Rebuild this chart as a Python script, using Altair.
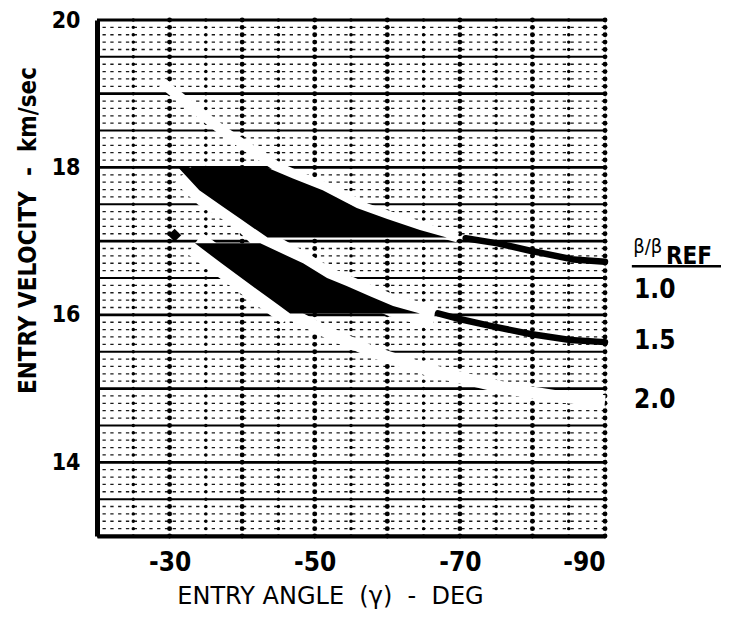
import altair as alt
import pandas as pd

# ---------------- axes ----------------
X_DOMAIN = [-20, -90]
Y_DOMAIN = [13, 20]
X_TICKS = [-30, -50, -70, -90]
Y_TICKS = [14, 16, 18, 20]

# ---------------- grid positions ----------------
MINOR_V = [round(13 + 0.1 * i, 1) for i in range(71)]
MAJOR_INT = [13, 14, 15, 16, 17, 18, 19, 20]
MAJOR_HALF = [13.5, 14.5, 15.5, 16.5, 17.5, 18.5, 19.5]
GRID_ANGLES = [-25, -30, -35, -40, -45, -50, -55, -60, -65, -70, -75, -80, -85, -90]

# ---------------- dark bands (velocity, left edge angle, right edge angle) ----------------
UPPER_VEL = [18.0, 17.85, 17.69, 17.45, 17.3, 17.15, 17.05]
UPPER_LEFT = [-31.2, -32.6, -34.1, -37.6, -39.8, -42.0, -43.5]
UPPER_RIGHT = [-43.4, -47.0, -51.1, -55.8, -60.0, -64.5, -68.2]
LOWER_VEL = [16.97, 16.7, 16.5, 16.39, 16.25, 16.12, 16.02]
LOWER_LEFT = [-33.5, -37.15, -39.9, -41.4, -43.4, -45.2, -46.6]
LOWER_RIGHT = [-42.5, -48.4, -51.7, -54.4, -57.7, -60.8, -64.5]

# ---------------- black curves (right part) ----------------
C10_ANGLE = [-70.8, -75.2, -79.7, -85.7, -90.0]
C10_VEL = [17.04, 16.97, 16.87, 16.75, 16.72]
C15_ANGLE = [-67.0, -70.1, -74.2, -79.7, -85.2, -90.0]
C15_VEL = [16.02, 15.94, 15.85, 15.74, 15.66, 15.63]

# ---------------- white strips (curve traces without grid) ----------------
WA_ANGLE = [-29.0, -30.8, -37.3, -45.0, -48.5, -52.6, -57.0, -61.5, -66.0, -69.7]
WA_VEL = [19.15, 19.0, 18.5, 18.0, 17.85, 17.69, 17.45, 17.3, 17.15, 17.05]
WB_ANGLE = [-31.8, -34.9, -37.2, -40.0, -43.0, -48.4, -51.7, -54.4, -60.8, -64.5, -66.5]
WB_VEL = [17.9, 17.61, 17.48, 17.29, 17.0, 16.70, 16.50, 16.39, 16.12, 16.02, 15.99]
WC1_ANGLE = [-33.5, -37.15, -40.4, -46.6]
WC1_VEL = [16.97, 16.7, 16.46, 16.02]
WC2_ANGLE = [-46.0, -52.0, -57.9, -65.0, -70.0, -76.6, -83.0, -90.0]
WC2_VEL = [16.05, 15.75, 15.5, 15.27, 15.15, 15.0, 14.9, 14.83]

# small dark mark
BLOB_ANGLE = [-30.7]
BLOB_VEL = [17.08]

# ---------------- legend annotation ----------------
LEG_LABELS = ["1.0", "1.5", "2.0"]
LEG_ANGLE = [-94.0, -94.0, -94.0]
LEG_VEL = [16.34, 15.64, 14.84]
HEAD_BETA = "β/β"
HEAD_BETA_POS = (-93.9, 16.92)
HEAD_REF = "REF"
HEAD_REF_POS = (-98.4, 16.79)
HEAD_LINE = (-93.7, -107.0, 16.66)

NB = "\u00a0"
X_TITLE = "ENTRY" + NB + "ANGLE" + NB * 2 + "(γ)" + NB * 2 + "-" + NB * 2 + "DEG"
Y_TITLE = "ENTRY VELOCITY" + NB * 2 + "-" + NB * 2 + "km/sec"

FONT = "DejaVu Sans Condensed, DejaVu Sans"
FONT_WIDE = "DejaVu Sans"

xscale = alt.Scale(domain=X_DOMAIN, nice=False, zero=False)
yscale = alt.Scale(domain=Y_DOMAIN, nice=False, zero=False)

X = alt.X(
    "angle:Q",
    scale=xscale,
    axis=alt.Axis(
        values=X_TICKS,
        labelExpr="datum.value < 0 ? '-' + (-datum.value) : datum.label",
        title=X_TITLE,
        labelFont=FONT, labelFontSize=26, labelFontWeight="bold", labelColor="black",
        labelPadding=13, ticks=False, grid=False,
        domainColor="black", domainWidth=4,
        titleFont=FONT_WIDE, titleFontSize=24, titleFontWeight="normal", titleColor="black",
        titleX=233, titleY=60, titleAlign="center", titleBaseline="middle",
        zindex=1,
    ),
)
Y = alt.Y(
    "vel:Q",
    scale=yscale,
    axis=alt.Axis(
        values=Y_TICKS,
        title=Y_TITLE,
        labelFont=FONT, labelFontSize=23, labelFontWeight="bold", labelColor="black",
        labelPadding=17, ticks=False, grid=False,
        domainColor="black", domainWidth=5,
        titleFont=FONT, titleFontSize=24, titleFontWeight="bold", titleColor="black",
        titleX=-69, titleY=210, titleAngle=270, titleAlign="center", titleBaseline="middle",
        zindex=1,
    ),
)

def frame(angles, vels, **extra):
    d = {"angle": angles, "vel": vels}
    d.update(extra)
    return pd.DataFrame(d)

minor_only = [m for m in MINOR_V if round(m * 2, 6) != round(round(m * 2), 6)]
minor_df = pd.DataFrame({"vel": minor_only})
half_df = pd.DataFrame({"vel": MAJOR_HALF})
int_df = pd.DataFrame({"vel": MAJOR_INT})
dots_df = pd.DataFrame(
    [{"angle": a, "vel": m, "s": (24 if a % 10 == 0 else 12)} for a in GRID_ANGLES for m in MINOR_V]
)

minor = alt.Chart(minor_df).mark_rule(color="#1a1a1a", strokeWidth=1.3, strokeDash=[3.3, 4.5]).encode(y=Y)
half = alt.Chart(half_df).mark_rule(color="black", strokeWidth=2).encode(y=Y)
integ = alt.Chart(int_df).mark_rule(color="black", strokeWidth=2.8).encode(y=Y)
dots = alt.Chart(dots_df).mark_point(filled=True, color="black", opacity=1, shape="circle").encode(
    x=X, y=Y, size=alt.Size("s:Q", scale=None, legend=None)
)

white_rows = []
for seg, (angs, vels, w) in enumerate([
    (WA_ANGLE, WA_VEL, 10),
    (WB_ANGLE, WB_VEL, 22),
    (WC1_ANGLE, WC1_VEL, 26),
    (WC2_ANGLE, WC2_VEL, 12),
]):
    for i, (a, v) in enumerate(zip(angs, vels)):
        white_rows.append({"angle": a, "vel": v, "seg": seg, "i": i, "w": w})
white_df = pd.DataFrame(white_rows)
white = alt.Chart(white_df).mark_line(color="white", strokeCap="butt", strokeJoin="round").encode(
    x=X, y=Y, detail="seg:N", order="i:Q", strokeWidth=alt.StrokeWidth("w:Q", scale=None, legend=None)
)

band_df = pd.concat([
    pd.DataFrame({"vel": UPPER_VEL, "angle": UPPER_LEFT, "angle2": UPPER_RIGHT, "band": "upper"}),
    pd.DataFrame({"vel": LOWER_VEL, "angle": LOWER_LEFT, "angle2": LOWER_RIGHT, "band": "lower"}),
])
bands = alt.Chart(band_df).mark_area(orient="horizontal", color="black", opacity=1).encode(
    y=Y, x=X, x2="angle2:Q", detail="band:N"
)

curve_df = pd.concat([
    frame(C10_ANGLE, C10_VEL, c="1.0", i=list(range(len(C10_ANGLE)))),
    frame(C15_ANGLE, C15_VEL, c="1.5", i=list(range(len(C15_ANGLE)))),
])
curves = alt.Chart(curve_df).mark_line(color="black", strokeWidth=6.5, strokeCap="round").encode(
    x=X, y=Y, detail="c:N", order="i:Q"
)

blob = alt.Chart(frame(BLOB_ANGLE, BLOB_VEL)).mark_point(
    filled=True, color="black", opacity=1, shape="diamond", size=170
).encode(x=X, y=Y)

leg_df = frame(LEG_ANGLE, LEG_VEL, t=LEG_LABELS)
leg = alt.Chart(leg_df).mark_text(
    align="left", baseline="middle", font=FONT, fontSize=26, fontWeight="bold", color="black"
).encode(x=X, y=Y, text="t:N")

head1 = alt.Chart(frame([HEAD_BETA_POS[0]], [HEAD_BETA_POS[1]], t=[HEAD_BETA])).mark_text(
    align="left", baseline="middle", font=FONT, fontSize=20, fontWeight="normal", color="black"
).encode(x=X, y=Y, text="t:N")
head2 = alt.Chart(frame([HEAD_REF_POS[0]], [HEAD_REF_POS[1]], t=[HEAD_REF])).mark_text(
    align="left", baseline="middle", font=FONT, fontSize=24, fontWeight="bold", color="black"
).encode(x=X, y=Y, text="t:N")
hline = alt.Chart(pd.DataFrame({"angle": [HEAD_LINE[0]], "angle2": [HEAD_LINE[1]], "vel": [HEAD_LINE[2]]})).mark_rule(
    color="black", strokeWidth=2.5
).encode(x=X, x2="angle2:Q", y=Y)

chart = alt.layer(
    minor, half, integ, dots, white, bands, curves, blob, leg, head1, head2, hline
).properties(
    width=508, height=516,
    autosize=alt.AutoSizeParams(type="none"),
    padding={"left": 89, "top": 12, "right": 116, "bottom": 74},
).configure_view(stroke=None).configure(background="white")

chart.save("out.html", embed_options={"renderer": "svg", "actions": False})
